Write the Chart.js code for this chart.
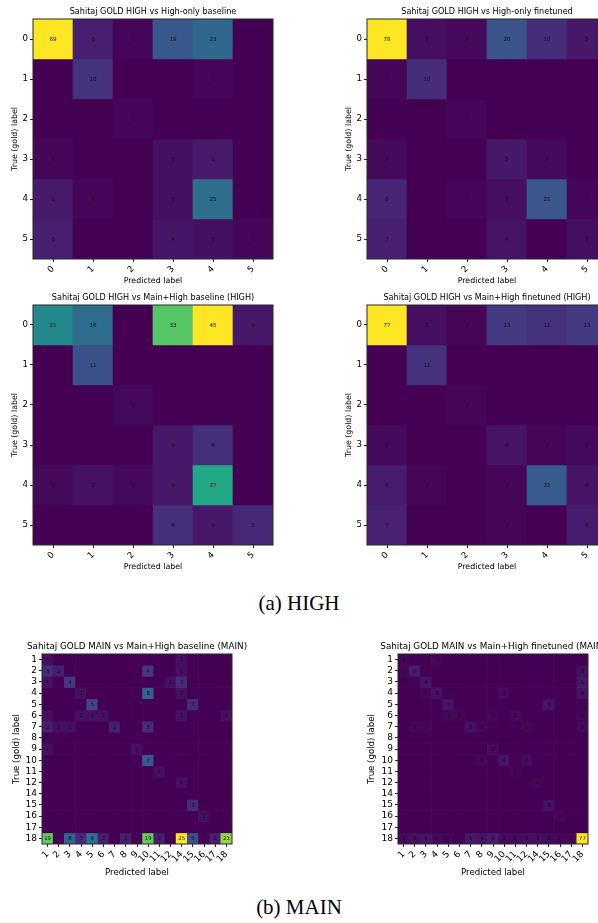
<!DOCTYPE html>
<html><head><meta charset="utf-8">
<script src="https://cdn.jsdelivr.net/npm/chart.js@4.4.1/dist/chart.umd.min.js"></script>
<style>
html,body{margin:0;padding:0;width:598px;height:923px;overflow:hidden;background:#fff;position:relative;}
canvas{position:absolute;}
.cap{position:absolute;left:0;width:598px;text-align:center;font-family:"Liberation Serif","DejaVu Serif",serif;font-size:21px;line-height:24px;color:#000;}
</style></head><body>
<canvas id="m1"></canvas>
<canvas id="m2"></canvas>
<canvas id="m3"></canvas>
<canvas id="m4"></canvas>
<canvas id="m5"></canvas>
<canvas id="m6"></canvas>
<div class="cap" style="top:591px">(a) HIGH</div>
<div class="cap" style="top:895px">(b) MAIN</div>
<script>
// ---------- DATA ----------
const HIGH_LABELS = ['0','1','2','3','4','5'];
const MAIN_LABELS = ['1','2','3','4','5','6','7','8','9','10','11','12','14','15','16','17','18'];

const TITLE_HIGH_ONLY_BASELINE = 'Sahitaj GOLD HIGH vs High-only baseline';
const TITLE_HIGH_ONLY_FINETUNED = 'Sahitaj GOLD HIGH vs High-only finetuned';
const TITLE_MH_BASELINE_HIGH = 'Sahitaj GOLD HIGH vs Main+High baseline (HIGH)';
const TITLE_MH_FINETUNED_HIGH = 'Sahitaj GOLD HIGH vs Main+High finetuned (HIGH)';
const TITLE_MH_BASELINE_MAIN = 'Sahitaj GOLD MAIN vs Main+High baseline (MAIN)';
const TITLE_MH_FINETUNED_MAIN = 'Sahitaj GOLD MAIN vs Main+High finetuned (MAIN)';

const HIGH_ONLY_BASELINE = [
  [69, 6, 1, 19, 23, 0],
  [0, 10, 0, 0, 1, 0],
  [0, 0, 1, 0, 0, 0],
  [1, 0, 0, 3, 5, 0],
  [5, 1, 0, 3, 25, 0],
  [6, 0, 0, 4, 3, 1]
];
const HIGH_ONLY_FINETUNED = [
  [78, 3, 2, 20, 10, 5],
  [1, 10, 0, 0, 0, 0],
  [0, 0, 1, 0, 0, 0],
  [2, 0, 0, 5, 2, 0],
  [8, 0, 1, 3, 21, 1],
  [7, 0, 0, 4, 0, 3]
];
const MH_BASELINE_HIGH = [
  [21, 16, 0, 33, 45, 3],
  [0, 11, 0, 0, 0, 0],
  [0, 0, 1, 0, 0, 0],
  [0, 0, 0, 3, 6, 0],
  [1, 2, 1, 3, 27, 0],
  [0, 0, 0, 6, 3, 5]
];
const MH_FINETUNED_HIGH = [
  [77, 3, 1, 13, 11, 13],
  [0, 11, 0, 0, 0, 0],
  [0, 0, 1, 0, 0, 0],
  [2, 0, 0, 4, 1, 2],
  [6, 1, 0, 1, 22, 4],
  [7, 0, 0, 1, 0, 6]
];
// rows/cols: 1,2,3,4,5,6,7,8,9,10,11,12,14,15,16,17,18
const MH_BASELINE_MAIN = [
  [1,0,0,0,0,0,0,0,0,0,0,0,1,0,0,0,0],
  [3,2,0,0,0,0,0,0,0,4,0,0,1,0,0,0,0],
  [1,0,4,0,0,0,0,0,0,0,0,1,3,0,0,0,0],
  [0,0,0,1,0,0,0,0,0,8,0,0,1,0,0,0,0],
  [0,0,0,0,5,0,0,0,0,0,0,0,0,3,0,0,0],
  [1,0,0,1,1,1,0,0,0,0,0,0,1,0,0,0,1],
  [2,1,1,0,0,0,2,0,0,3,0,0,0,0,0,0,0],
  [0,0,0,0,0,0,0,0,0,0,0,0,0,0,0,0,0],
  [1,0,0,0,0,0,0,0,1,0,0,0,0,0,0,0,0],
  [0,0,0,0,0,0,0,0,0,7,0,0,0,0,0,0,0],
  [0,0,0,0,0,0,0,0,0,0,1,0,0,0,0,0,0],
  [0,0,0,0,0,0,0,0,0,0,0,0,1,0,0,0,0],
  [0,0,0,0,0,0,0,0,0,0,0,0,0,0,0,0,0],
  [0,0,0,0,0,0,0,0,0,0,0,0,0,3,0,0,0],
  [0,0,0,0,0,0,0,0,0,0,0,0,0,0,1,0,0],
  [0,0,0,0,0,0,0,0,0,0,0,0,0,0,0,0,0],
  [19,0,8,3,9,2,0,2,0,19,2,0,25,6,0,2,21]
];
const MH_FINETUNED_MAIN = [
  [1,0,0,1,0,0,0,0,0,0,0,0,0,0,0,0,0],
  [1,6,0,0,0,0,0,0,0,0,0,0,0,0,0,0,3],
  [0,0,4,0,0,0,0,0,0,0,0,0,0,0,0,0,5],
  [0,0,1,3,0,0,0,0,0,2,0,0,0,0,0,0,4],
  [0,0,0,0,4,0,0,0,0,0,0,0,0,4,0,0,0],
  [0,0,0,0,1,1,0,0,1,0,2,0,0,0,0,0,1],
  [0,1,1,0,0,0,3,1,0,0,0,1,0,0,0,0,2],
  [0,0,0,0,0,0,0,0,0,0,0,0,0,0,0,0,0],
  [0,0,0,0,0,0,0,0,2,0,0,0,0,0,0,0,0],
  [0,0,0,0,0,0,0,1,0,4,0,2,0,0,0,0,0],
  [0,0,0,0,0,0,0,0,0,0,1,0,0,0,0,0,0],
  [0,0,0,0,0,0,0,0,0,0,0,0,1,0,0,0,0],
  [0,0,0,0,0,0,0,0,0,0,0,0,0,0,0,0,0],
  [0,0,0,0,0,0,0,0,0,0,0,0,0,3,0,0,0],
  [0,0,0,0,0,0,0,0,0,0,0,0,0,0,1,0,0],
  [0,0,0,0,0,0,0,0,0,0,0,0,0,0,0,0,0],
  [2,3,4,2,1,0,5,4,6,2,2,3,3,2,1,1,77]
];

// ---------- COLORMAP (viridis) ----------
const VIRIDIS = ['#440154','#482475','#414487','#355f8d','#2a788e','#21918c','#22a884','#44bf70','#7ad151','#bddf26','#fde725'];
function hex2rgb(h){return [parseInt(h.slice(1,3),16),parseInt(h.slice(3,5),16),parseInt(h.slice(5,7),16)];}
function viridis(t){
  t = Math.max(0, Math.min(1, t));
  const p = t * (VIRIDIS.length - 1);
  const i = Math.min(Math.floor(p), VIRIDIS.length - 2);
  const f = p - i;
  const a = hex2rgb(VIRIDIS[i]), b = hex2rgb(VIRIDIS[i+1]);
  const c = a.map((v,k)=>Math.round(v + (b[k]-v)*f));
  return 'rgb(' + c.join(',') + ')';
}

const FONT = '"DejaVu Sans", sans-serif';
const AXIS = '#262626';

const cellText = {
  id: 'cellText',
  afterDatasetsDraw(chart) {
    const ctx = chart.ctx;
    const o = chart.options.plugins.cellText;
    ctx.save();
    ctx.fillStyle = '#111';
    ctx.font = o.size + 'px ' + FONT;
    ctx.textAlign = 'center';
    ctx.textBaseline = 'middle';
    chart.data.datasets.forEach((ds, r) => {
      const meta = chart.getDatasetMeta(r);
      meta.data.forEach((bar, c) => {
        const v = ds.counts[c];
        if (!v) return;
        const p = bar.getProps(['x','y','base'], true);
        ctx.fillText(String(v), p.x, (p.y + p.base) / 2 + 0.5);
      });
    });
    const a = chart.chartArea;
    ctx.strokeStyle = AXIS;
    ctx.lineWidth = 1;
    ctx.strokeRect(a.left, a.top, a.right - a.left, a.bottom - a.top);
    ctx.restore();
  }
};

function drawMatrix(id, labels, matrix, titleText, g) {
  const canvas = document.getElementById(id);
  const n = labels.length;
  const max = Math.max(...matrix.flat());
  const tlh = g.titleSize * 1.2;
  const llh = g.labelSize * 1.2;
  const canvasLeft = g.plotLeft - g.yAxisW;
  const canvasTop = Math.floor(g.titleCY - tlh / 2 - 4);
  const titlePadTop = g.titleCY - tlh / 2 - canvasTop;
  const titlePadBottom = g.plotTop - (g.titleCY + tlh / 2);
  const W = 2 * g.yAxisW + g.plotW;
  const H = Math.round(g.xTitleCY + llh / 2 + 3 - canvasTop);
  const xAxisH = H - (g.plotTop - canvasTop) - g.plotH;
  const xTitlePadBottom = canvasTop + H - g.xTitleCY - llh / 2;
  const yTitlePadTop = g.yTitleCX - canvasLeft - llh / 2;

  canvas.width = W; canvas.height = H;
  canvas.style.left = canvasLeft + 'px';
  canvas.style.top = canvasTop + 'px';
  canvas.style.width = W + 'px';
  canvas.style.height = H + 'px';

  const datasets = matrix.map((row, r) => ({
    label: labels[r],
    data: row.map(() => [r - 0.5, r + 0.5]),
    counts: row,
    backgroundColor: row.map(v => viridis(v / max)),
    borderWidth: 0,
    barPercentage: 1,
    categoryPercentage: 1,
    grouped: false
  }));

  const gridOpts = {display: true, drawOnChartArea: false, drawTicks: true, tickLength: 3, offset: false, color: AXIS, tickColor: AXIS, lineWidth: 1};

  new Chart(canvas, {
    type: 'bar',
    data: {labels: labels, datasets: datasets},
    options: {
      responsive: false, animation: false, devicePixelRatio: 1, events: [],
      layout: {padding: 0},
      plugins: {
        legend: {display: false},
        tooltip: {enabled: false},
        title: {display: true, fullSize: true, text: titleText, color: '#000',
          font: {family: FONT, size: g.titleSize, weight: 'normal', lineHeight: 1.2},
          padding: {top: titlePadTop, bottom: titlePadBottom}},
        cellText: {size: g.cellSize}
      },
      scales: {
        x: {
          type: 'category', offset: true,
          grid: gridOpts, border: {display: false},
          ticks: {font: {family: FONT, size: g.tickSize}, color: '#000', minRotation: 45, maxRotation: 45, autoSkip: false, padding: 2},
          title: {display: true, text: 'Predicted label', color: '#000',
            font: {family: FONT, size: g.labelSize, lineHeight: 1.2}, padding: {top: 0, bottom: xTitlePadBottom}},
          afterFit: s => { s.height = xAxisH; }
        },
        y: {
          type: 'linear', min: -0.5, max: n - 0.5, reverse: true,
          afterBuildTicks: s => { s.ticks = labels.map((_, i) => ({value: i})); },
          grid: gridOpts, border: {display: false},
          ticks: {font: {family: FONT, size: g.tickSize}, color: '#000', autoSkip: false, padding: 2,
            callback: v => labels[v]},
          title: {display: true, text: 'True (gold) label', color: '#000',
            font: {family: FONT, size: g.labelSize, lineHeight: 1.2}, padding: {top: yTitlePadTop, bottom: 0}},
          afterFit: s => { s.width = g.yAxisW; }
        },
        ySpacer: {
          type: 'linear', position: 'right', display: true,
          grid: {display: false}, border: {display: false},
          ticks: {display: false},
          afterFit: s => { s.width = g.yAxisW; }
        }
      }
    },
    plugins: [cellText]
  });
}

const HIGH_GEOM = {yAxisW: 33, plotW: 240, plotH: 240, titleSize: 8.1, labelSize: 7.9, tickSize: 8.6, cellSize: 5.6};
drawMatrix('m1', HIGH_LABELS, HIGH_ONLY_BASELINE, TITLE_HIGH_ONLY_BASELINE,
  Object.assign({}, HIGH_GEOM, {plotLeft: 33, plotTop: 19, titleCY: 12, xTitleCY: 281, yTitleCX: 15}));
drawMatrix('m2', HIGH_LABELS, HIGH_ONLY_FINETUNED, TITLE_HIGH_ONLY_FINETUNED,
  Object.assign({}, HIGH_GEOM, {plotLeft: 367, plotTop: 19, titleCY: 12, xTitleCY: 281, yTitleCX: 349}));
drawMatrix('m3', HIGH_LABELS, MH_BASELINE_HIGH, TITLE_MH_BASELINE_HIGH,
  Object.assign({}, HIGH_GEOM, {plotLeft: 33, plotTop: 305, titleCY: 298, xTitleCY: 567, yTitleCX: 15}));
drawMatrix('m4', HIGH_LABELS, MH_FINETUNED_HIGH, TITLE_MH_FINETUNED_HIGH,
  Object.assign({}, HIGH_GEOM, {plotLeft: 367, plotTop: 305, titleCY: 298, xTitleCY: 567, yTitleCX: 349}));

const MAIN_GEOM = {yAxisW: 42, plotW: 190, plotH: 190, titleSize: 8.8, labelSize: 8.6, tickSize: 9, cellSize: 5.3};
drawMatrix('m5', MAIN_LABELS, MH_BASELINE_MAIN, TITLE_MH_BASELINE_MAIN,
  Object.assign({}, MAIN_GEOM, {plotLeft: 42, plotTop: 654, titleCY: 647, xTitleCY: 873, yTitleCX: 17}));
drawMatrix('m6', MAIN_LABELS, MH_FINETUNED_MAIN, TITLE_MH_FINETUNED_MAIN,
  Object.assign({}, MAIN_GEOM, {plotLeft: 398, plotTop: 654, titleCY: 647, xTitleCY: 873, yTitleCX: 372}));
</script>
</body></html>
